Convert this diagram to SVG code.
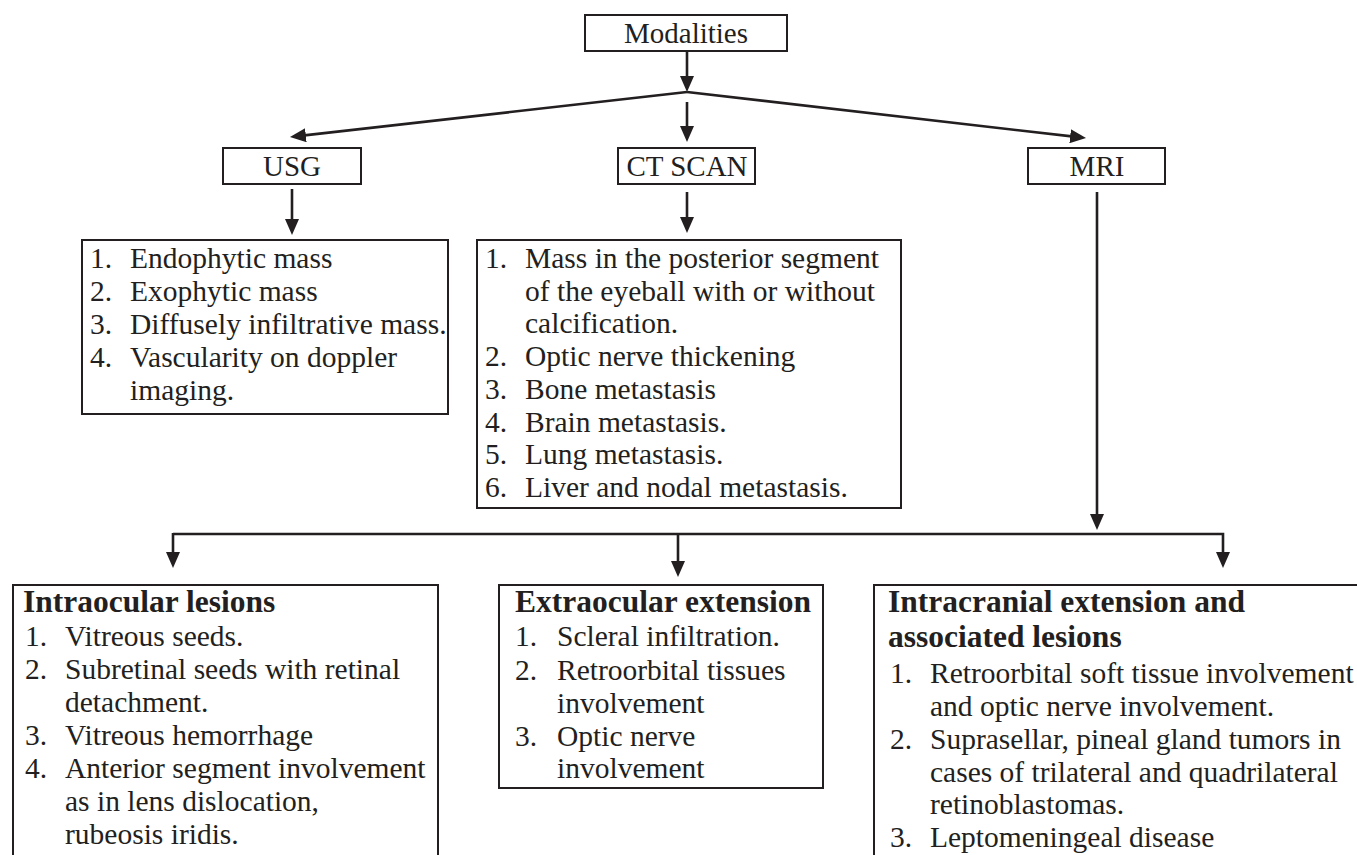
<svg xmlns="http://www.w3.org/2000/svg" width="1357" height="855" viewBox="0 0 1357 855">
<style>
.bg{fill:#ffffff}
.box{fill:none;stroke:#231f20;stroke-width:2}
.t{font-family:"Liberation Serif","Times New Roman",serif;font-size:29.5px;fill:#231f20}
.lbl{font-family:"Liberation Serif","Times New Roman",serif;font-size:29px;fill:#231f20;text-anchor:middle}
.h{font-family:"Liberation Serif","Times New Roman",serif;font-size:31.5px;font-weight:bold;fill:#231f20}
.c{fill:none;stroke:#231f20;stroke-width:2.6}
</style>
<defs>
<marker id="ah" viewBox="0 0 16 14" refX="6" refY="7" markerWidth="16" markerHeight="14" markerUnits="userSpaceOnUse" orient="auto">
<path d="M0,0 L16,7 L0,14 z" fill="#231f20"/>
</marker>
</defs>
<rect class="bg" x="0" y="0" width="1357" height="855"/>

<g id="connectors">
<line class="c" x1="687" y1="51" x2="687" y2="82" marker-end="url(#ah)"/>
<line class="c" x1="687" y1="92" x2="299.9" y2="135.9" marker-end="url(#ah)"/>
<line class="c" x1="687" y1="92" x2="1076.1" y2="136.9" marker-end="url(#ah)"/>
<line class="c" x1="687" y1="102" x2="687" y2="132" marker-end="url(#ah)"/>
<line class="c" x1="292" y1="189" x2="292" y2="225" marker-end="url(#ah)"/>
<line class="c" x1="687" y1="192" x2="687" y2="223" marker-end="url(#ah)"/>
<line class="c" x1="1097" y1="192" x2="1097" y2="520" marker-end="url(#ah)"/>
<polyline class="c" points="173,534 1223,534 1223,558" marker-end="url(#ah)"/>
<line class="c" x1="173" y1="533" x2="173" y2="558" marker-end="url(#ah)"/>
<line class="c" x1="678" y1="534" x2="678" y2="567" marker-end="url(#ah)"/>
</g>

<g id="modalities">
<rect class="box" x="585" y="15" width="202" height="36"/>
<text class="lbl" x="686" y="43">Modalities</text>
</g>

<g id="usg">
<rect class="box" x="223" y="148" width="138" height="36"/>
<text class="lbl" x="292" y="176">USG</text>
</g>

<g id="ctscan">
<rect class="box" x="618" y="148" width="137" height="36"/>
<text class="lbl" x="687" y="176">CT SCAN</text>
</g>

<g id="mri">
<rect class="box" x="1028" y="148" width="137" height="36"/>
<text class="lbl" x="1097" y="176">MRI</text>
</g>

<g id="usg-findings">
<rect class="box" x="82" y="240" width="366" height="174"/>
<text class="t" x="90" y="268">1.</text><text class="t" x="130" y="268">Endophytic mass</text>
<text class="t" x="90" y="301">2.</text><text class="t" x="130" y="301">Exophytic mass</text>
<text class="t" x="90" y="334">3.</text><text class="t" x="130" y="334">Diffusely infiltrative mass.</text>
<text class="t" x="90" y="367">4.</text><text class="t" x="130" y="367">Vascularity on doppler</text>
<text class="t" x="130" y="400">imaging.</text>
</g>

<g id="ct-findings">
<rect class="box" x="477" y="240" width="424" height="268"/>
<text class="t" x="485" y="268">1.</text><text class="t" x="525" y="268">Mass in the posterior segment</text>
<text class="t" x="525" y="301">of the eyeball with or without</text>
<text class="t" x="525" y="333">calcification.</text>
<text class="t" x="485" y="366">2.</text><text class="t" x="525" y="366">Optic nerve thickening</text>
<text class="t" x="485" y="399">3.</text><text class="t" x="525" y="399">Bone metastasis</text>
<text class="t" x="485" y="432">4.</text><text class="t" x="525" y="432">Brain metastasis.</text>
<text class="t" x="485" y="464">5.</text><text class="t" x="525" y="464">Lung metastasis.</text>
<text class="t" x="485" y="497">6.</text><text class="t" x="525" y="497">Liver and nodal metastasis.</text>
</g>

<g id="intraocular">
<rect class="box" x="13" y="585" width="425" height="290"/>
<text class="h" x="23" y="612">Intraocular lesions</text>
<text class="t" x="25" y="646">1.</text><text class="t" x="65" y="646">Vitreous seeds.</text>
<text class="t" x="25" y="679">2.</text><text class="t" x="65" y="679">Subretinal seeds with retinal</text>
<text class="t" x="65" y="712">detachment.</text>
<text class="t" x="25" y="745">3.</text><text class="t" x="65" y="745">Vitreous hemorrhage</text>
<text class="t" x="25" y="778">4.</text><text class="t" x="65" y="778">Anterior segment involvement</text>
<text class="t" x="65" y="811">as in lens dislocation,</text>
<text class="t" x="65" y="844">rubeosis iridis.</text>
</g>

<g id="extraocular">
<rect class="box" x="499" y="585" width="324" height="203"/>
<text class="h" x="515" y="612">Extraocular extension</text>
<text class="t" x="515" y="646">1.</text><text class="t" x="557" y="646">Scleral infiltration.</text>
<text class="t" x="515" y="680">2.</text><text class="t" x="557" y="680">Retroorbital tissues</text>
<text class="t" x="557" y="713">involvement</text>
<text class="t" x="515" y="746">3.</text><text class="t" x="557" y="746">Optic nerve</text>
<text class="t" x="557" y="778">involvement</text>
</g>

<g id="intracranial">
<rect class="box" x="874" y="585" width="500" height="290"/>
<text class="h" x="888" y="612">Intracranial extension and</text>
<text class="h" x="888" y="647">associated lesions</text>
<text class="t" x="890" y="683">1.</text><text class="t" x="930" y="683">Retroorbital soft tissue involvement</text>
<text class="t" x="930" y="716">and optic nerve involvement.</text>
<text class="t" x="890" y="749">2.</text><text class="t" x="930" y="749">Suprasellar, pineal gland tumors in</text>
<text class="t" x="930" y="782">cases of trilateral and quadrilateral</text>
<text class="t" x="930" y="814">retinoblastomas.</text>
<text class="t" x="890" y="847">3.</text><text class="t" x="930" y="847">Leptomeningeal disease</text>
</g>
</svg>
